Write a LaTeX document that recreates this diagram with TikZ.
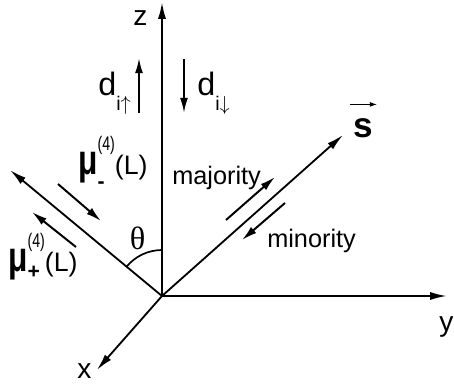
\documentclass[tikz,border=0pt]{standalone}
\usepackage{graphicx}
\usepackage[no-math]{fontspec}
\setmainfont{Liberation Sans}
\newfontfamily\greekserif{Liberation Serif}
\usetikzlibrary{arrows.meta}

\newcommand{\muLabel}[2]{{\fontsize{30}{30}\selectfont\bfseries\scalebox{0.75}[1]{μ}}%
  \rlap{\raisebox{#2}{\fontsize{15}{15}\selectfont\bfseries #1}}%
  \raisebox{17pt}{\fontsize{14}{14}\selectfont\scalebox{0.72}[1]{(4)}}%
  {\fontsize{19}{19}\selectfont(L)}}
\newcommand{\dLabel}[1]{d\raisebox{-11pt}{\fontsize{14}{14}\selectfont i$#1$}}

\tikzset{
  axisline/.style={line width=1.4pt, -{Latex[length=4.2mm,width=2mm]}},
  spinarrow/.style={line width=1.4pt, -{Latex[length=3.8mm,width=2mm]}},
  vecarrow/.style={line width=0.8pt, -{Latex[length=1.8mm,width=1.2mm]}},
  lbl/.style={font=\fontsize{18}{20}\selectfont, inner sep=0pt, anchor=base west},
  axlbl/.style={font=\fontsize{20}{22}\selectfont, inner sep=0pt, anchor=base west},
  biglbl/.style={font=\fontsize{23}{24}\selectfont, inner sep=0pt, anchor=base west}
}

\begin{document}
\begin{tikzpicture}
\useasboundingbox (-4.05,-2.35) rectangle (7.3,7.4);

\coordinate (O) at (0,0);
\coordinate (zend) at (0,7.35);
\coordinate (yend) at (7.125,0);
\coordinate (xend) at (-1.63,-1.85);
\coordinate (lend) at (-3.8,3.15);
\coordinate (send) at (4.525,4.025);

% axes
\draw[axisline] (O) -- (zend);
\draw[axisline] (O) -- (yend);
\draw[axisline,line width=1.3pt] (O) -- (xend);
\draw[axisline,line width=1.3pt] (O) -- (lend);
\draw[axisline,line width=1.3pt] (O) -- (send);

\node[axlbl] (zlab) at (-0.725,6.775) {z};
\node[axlbl] (ylab) at (6.93,-0.875) {y};
\node[axlbl] (xlab) at (-2.125,-2.05) {x};
\node[font=\fontsize{25}{26}\selectfont\bfseries, inner sep=0pt] (slab) at (5.04,4.19) {s};
\draw[vecarrow] ([xshift=-2.5pt,yshift=10pt]slab.north west) -- ([xshift=2.5pt,yshift=10pt]slab.north east);

% angle
\draw[line width=1.2pt] (0,1.15) arc[start angle=90, end angle=140, radius=1.15];
\node[font=\greekserif\fontsize{23}{24}\selectfont, inner sep=0pt] (theta) at (-0.6125,1.4375) {θ};

% d orbitals
\coordinate (dua) at (-0.575,4.575);
\coordinate (dub) at (-0.575,5.95);
\coordinate (dda) at (0.55,5.925);
\coordinate (ddb) at (0.55,4.575);
\draw[spinarrow] (dua) -- (dub);
\draw[spinarrow] (dda) -- (ddb);
\node[biglbl] (dup) at (-1.6,5.025) {\dLabel{\uparrow}};
\node[biglbl] (ddown) at (0.875,5.025) {\dLabel{\downarrow}};

% chemical potentials
\coordinate (ma) at (-2.6,2.8);
\coordinate (mb) at (-1.525,1.875);
\coordinate (pa) at (-2.15,1.225);
\coordinate (pb) at (-3.25,2.1);
\draw[spinarrow] (ma) -- (mb);
\draw[spinarrow] (pa) -- (pb);
\node[lbl] (muminus) at (-2.1,3.05) {\muLabel{-}{-10pt}};
\node[lbl] (muplus) at (-3.85,0.625) {\muLabel{+}{-5pt}};

% majority / minority
\coordinate (ja) at (1.6,1.9);
\coordinate (jb) at (2.825,2.975);
\coordinate (na) at (3.075,2.325);
\coordinate (nb) at (2.0,1.4);
\draw[spinarrow] (ja) -- (jb);
\draw[spinarrow] (na) -- (nb);
\node[lbl] (major) at (0.25,2.8) {majority};
\node[lbl] (minor) at (2.625,1.225) {minority};

\end{tikzpicture}
\end{document}
